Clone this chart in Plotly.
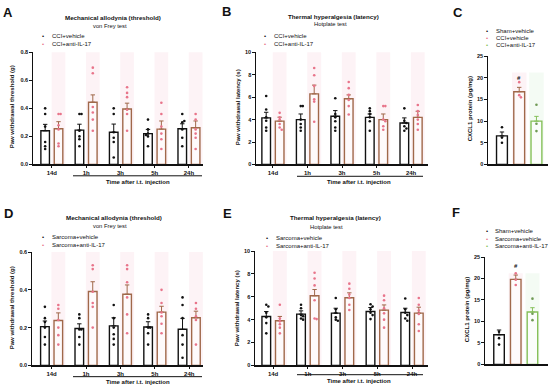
import plotly.graph_objects as go

W, H = 550, 390
FONT = "Liberation Sans, Arial, sans-serif"

times = ["14d", "1h", "3h", "5h", "24h"]

# ---------------- Panel A (CCI, von Frey) ----------------
A_veh_mean = [0.240, 0.245, 0.230, 0.220, 0.255]
A_veh_sem = [0.046, 0.042, 0.058, 0.030, 0.035]
A_anti_mean = [0.255, 0.444, 0.395, 0.252, 0.262]
A_anti_sem = [0.050, 0.052, 0.042, 0.058, 0.048]
A_veh_pts = [[0.40, 0.36, 0.27, 0.16, 0.13, 0.11],
             [0.36, 0.36, 0.24, 0.20, 0.18, 0.13],
             [0.40, 0.36, 0.23, 0.19, 0.16, 0.05],
             [0.32, 0.25, 0.22, 0.20, 0.13, 0.21],
             [0.36, 0.30, 0.31, 0.25, 0.19, 0.13]]
A_anti_pts = [[0.36, 0.36, 0.28, 0.25, 0.15, 0.13],
              [0.69, 0.65, 0.41, 0.37, 0.32, 0.24],
              [0.55, 0.51, 0.48, 0.39, 0.36, 0.24],
              [0.44, 0.36, 0.27, 0.22, 0.18, 0.11],
              [0.36, 0.32, 0.25, 0.22, 0.19, 0.11]]

# ---------------- Panel B (CCI, hotplate) ----------------
B_veh_mean = [4.15, 4.00, 4.30, 4.20, 3.70]
B_veh_sem = [0.50, 0.50, 0.50, 0.30, 0.45]
B_anti_mean = [3.86, 6.29, 5.85, 4.00, 4.20]
B_anti_sem = [0.35, 0.78, 0.35, 0.50, 0.54]
B_veh_pts = [[6.1, 4.9, 4.2, 3.9, 3.3, 3.0],
             [5.2, 5.2, 4.0, 3.6, 3.3, 3.0],
             [5.9, 4.5, 4.2, 3.85, 3.3, 3.0],
             [5.0, 4.75, 4.5, 4.2, 3.85, 3.0],
             [5.0, 3.9, 3.7, 3.4, 3.2, 3.0]]
B_anti_pts = [[4.6, 4.2, 4.0, 3.6, 3.3, 3.1],
              [8.6, 7.95, 7.0, 5.8, 5.6, 3.8],
              [7.35, 6.8, 6.2, 5.75, 5.2, 4.45],
              [5.2, 5.2, 4.0, 3.85, 3.4, 3.1],
              [5.3, 4.75, 4.4, 4.0, 3.6, 3.1]]

# ---------------- Panel C (CXCL1, CCI) ----------------
C_groups = ["Sham+vehicle", "CCI+vehicle", "CCI+anti-IL-17"]
C_mean = [6.6, 16.8, 10.0]
C_sem = [0.9, 1.0, 1.1]
C_pts = [[8.6, 6.2, 5.0], [19.0, 16.0, 15.5], [13.8, 9.4, 7.7]]
C_sig = ["", "#", ""]

# ---------------- Panel D (Sarcoma, von Frey) ----------------
D_veh_mean = [0.205, 0.195, 0.209, 0.203, 0.191]
D_veh_sem = [0.030, 0.025, 0.043, 0.028, 0.058]
D_anti_mean = [0.238, 0.391, 0.377, 0.282, 0.252]
D_anti_sem = [0.040, 0.052, 0.049, 0.031, 0.035]
D_veh_pts = [[0.31, 0.25, 0.23, 0.20, 0.15, 0.11],
             [0.27, 0.25, 0.19, 0.19, 0.15, 0.11],
             [0.32, 0.25, 0.20, 0.165, 0.14, 0.11],
             [0.27, 0.25, 0.20, 0.20, 0.17, 0.11],
             [0.36, 0.32, 0.25, 0.16, 0.11, 0.04]]
D_anti_pts = [[0.32, 0.30, 0.24, 0.20, 0.16, 0.11],
              [0.53, 0.51, 0.39, 0.33, 0.31, 0.20],
              [0.53, 0.51, 0.44, 0.36, 0.27, 0.17],
              [0.40, 0.33, 0.28, 0.26, 0.22, 0.17],
              [0.33, 0.30, 0.26, 0.24, 0.11]]

# ---------------- Panel E (Sarcoma, hotplate) ----------------
E_veh_mean = [4.28, 4.48, 4.57, 4.71, 4.63]
E_veh_sem = [0.43, 0.29, 0.43, 0.35, 0.37]
E_anti_mean = [3.90, 6.09, 5.92, 4.83, 4.57]
E_anti_sem = [0.38, 0.55, 0.43, 0.46, 0.52]
E_veh_pts = [[5.3, 5.15, 4.6, 4.2, 3.7, 2.8],
             [5.3, 5.0, 4.4, 4.3, 4.1, 4.0],
             [5.9, 4.9, 4.6, 4.2, 4.0, 3.9],
             [5.35, 5.15, 4.9, 4.6, 4.4, 4.05],
             [5.85, 4.9, 4.6, 4.4, 4.1, 3.9]]
E_anti_pts = [[5.3, 4.1, 3.85, 3.6, 3.3, 2.8],
              [8.1, 7.6, 7.0, 5.7, 4.1, 4.05],
              [7.15, 6.7, 6.2, 5.9, 5.3, 4.85],
              [6.1, 5.7, 5.0, 4.55, 4.0, 3.3],
              [5.9, 5.3, 4.8, 4.5, 3.6, 3.0]]

# ---------------- Panel F (CXCL1, Sarcoma) ----------------
F_groups = ["Sham+vehicle", "Sarcoma+vehicle", "Sarcoma+anti-IL-17"]
F_mean = [6.9, 19.8, 12.2]
F_sem = [1.1, 1.0, 1.0]
F_pts = [[7.6, 6.1, 4.6], [21.2, 19.7, 18.5], [15.3, 11.8, 10.3]]
F_sig = ["", "#", ""]

# ---------------- styling ----------------
BLACK = "#111111"
BROWN = "#a0684a"
PINK = "#e8748a"
GREEN = "#86c05a"
GREENPT = "#6f9a55"
BAND_PINK = "rgba(246,196,212,0.2)"
BAND_GREEN = "rgba(200,235,200,0.2)"


def px(x):
    return x / W


def py(y):
    return 1 - y / H


def swarm(center, vals, step, thr):
    xs, placed = [], []
    for v in vals:
        k = sum(1 for p in placed if abs(p - v) < thr)
        off = 0 if k == 0 else ((k + 1) // 2) * step * (1 if k % 2 else -1)
        xs.append(center + off)
        placed.append(v)
    return xs


fig = go.Figure()
layout = dict(width=W, height=H, margin=dict(l=0, r=0, t=0, b=0),
              paper_bgcolor="white", plot_bgcolor="rgba(0,0,0,0)",
              showlegend=False, hovermode=False,
              font=dict(family=FONT, size=6, color=BLACK),
              annotations=[], shapes=[])
ann = layout["annotations"]
shp = layout["shapes"]


def axis_pair(n, xdom, ydom, xrange, yrange, ytickvals, yfmt, xticks=True):
    xs = "xaxis" if n == 1 else f"xaxis{n}"
    ys = "yaxis" if n == 1 else f"yaxis{n}"
    xa = dict(domain=xdom, range=xrange, anchor=f"y{'' if n == 1 else n}",
              showgrid=False, zeroline=False, showline=True, linecolor=BLACK,
              linewidth=1.2, fixedrange=True)
    if xticks:
        xa.update(tickmode="array", tickvals=list(range(5)),
                  ticktext=[f"<b>{t}</b>" for t in times], ticks="outside",
                  ticklen=2.5, tickwidth=1, tickcolor=BLACK,
                  tickfont=dict(size=6, family=FONT, color=BLACK))
    else:
        xa.update(showticklabels=False, ticks="")
    ya = dict(domain=ydom, range=yrange, anchor=f"x{'' if n == 1 else n}",
              showgrid=False, zeroline=False, showline=True, linecolor=BLACK,
              linewidth=1.2, tickmode="array", tickvals=ytickvals,
              ticktext=[f"<b>{yfmt.format(v)}</b>" for v in ytickvals],
              ticks="outside", ticklen=2.5, tickwidth=1, tickcolor=BLACK,
              tickfont=dict(size=5.5, family=FONT, color=BLACK), fixedrange=True)
    layout[xs] = xa
    layout[ys] = ya
    return ("x" if n == 1 else f"x{n}"), ("y" if n == 1 else f"y{n}")


def time_panel(n, xdom, ydom, xrange, ymax, ytv, yfmt, vm, vs, am, asem, vp, ap, thr):
    xr, yr = axis_pair(n, xdom, ydom, xrange, [0, ymax], ytv, yfmt)
    off, bw = 0.195, 0.25
    xv = [i - off for i in range(5)]
    xa = [i + off for i in range(5)]
    for c in xa:
        shp.append(dict(type="rect", xref=xr, yref=f"{yr} domain", x0=c - 0.2, x1=c + 0.2,
                        y0=0, y1=1, fillcolor=BAND_PINK, line=dict(width=0), layer="below"))
    fig.add_trace(go.Bar(x=xv, y=vm, width=bw, xaxis=xr, yaxis=yr,
                         marker=dict(color="white", line=dict(color=BLACK, width=1.4)),
                         error_y=dict(type="data", array=vs, arrayminus=[0] * 5, symmetric=False,
                                      color=BLACK, thickness=1, width=2.2)))
    fig.add_trace(go.Bar(x=xa, y=am, width=bw, xaxis=xr, yaxis=yr,
                         marker=dict(color="rgba(255,255,255,0.6)", line=dict(color=BROWN, width=1.4)),
                         error_y=dict(type="data", array=asem, arrayminus=[0] * 5, symmetric=False,
                                      color=BROWN, thickness=1, width=2.2)))
    for i in range(5):
        fig.add_trace(go.Scatter(x=swarm(xv[i], vp[i], 0.06, thr), y=vp[i], mode="markers",
                                 xaxis=xr, yaxis=yr, cliponaxis=False,
                                 marker=dict(size=2.6, color=BLACK)))
        fig.add_trace(go.Scatter(x=swarm(xa[i], ap[i], 0.06, thr), y=ap[i], mode="markers",
                                 xaxis=xr, yaxis=yr, cliponaxis=False,
                                 marker=dict(size=2.6, color=PINK)))


def cxcl_panel(n, xdom, ydom, xrange, means, sems, pts, sig):
    xr, yr = axis_pair(n, xdom, ydom, xrange, [0, 25], [0, 5, 10, 15, 20, 25], "{:g}", xticks=False)
    cols = [BLACK, BROWN, GREEN]
    ptc = [BLACK, PINK, GREENPT]
    bands = [None, BAND_PINK, BAND_GREEN]
    for i in range(3):
        if bands[i]:
            shp.append(dict(type="rect", xref=xr, yref=f"{yr} domain", x0=i - 0.42, x1=i + 0.42,
                            y0=0, y1=0.85, fillcolor=bands[i], line=dict(width=0), layer="below"))
        fig.add_trace(go.Bar(x=[i], y=[means[i]], width=0.63, xaxis=xr, yaxis=yr,
                             marker=dict(color="rgba(255,255,255,0.6)", line=dict(color=cols[i], width=1.4)),
                             error_y=dict(type="data", array=[sems[i]], arrayminus=[0], symmetric=False,
                                          color=cols[i], thickness=1, width=2.2)))
        fig.add_trace(go.Scatter(x=swarm(i, pts[i], 0.1, 0.8), y=pts[i], mode="markers",
                                 xaxis=xr, yaxis=yr, marker=dict(size=2.6, color=ptc[i])))
        if sig[i]:
            ann.append(dict(xref=xr, yref=yr, x=i, y=means[i] + sems[i], yshift=9,
                            text=f"<b>{sig[i]}</b>", showarrow=False,
                            font=dict(size=6, color=BLACK)))


time_panel(1, [px(33), px(203)], [py(164), py(50)], [-0.55, 4.41], 0.8,
           [0, 0.2, 0.4, 0.6, 0.8], "{:.1f}", A_veh_mean, A_veh_sem, A_anti_mean, A_anti_sem,
           A_veh_pts, A_anti_pts, 0.015)
time_panel(2, [px(256), px(428)], [py(164), py(50)], [-0.49, 4.49], 10,
           [0, 2, 4, 6, 8, 10], "{:g}", B_veh_mean, B_veh_sem, B_anti_mean, B_anti_sem,
           B_veh_pts, B_anti_pts, 0.2)
cxcl_panel(3, [px(488), px(548)], [py(164), py(54)], [-0.81, 2.67], C_mean, C_sem, C_pts, C_sig)
time_panel(4, [px(32), px(203)], [py(368), py(253)], [-0.57, 4.40], 0.6,
           [0, 0.2, 0.4, 0.6], "{:.1f}", D_veh_mean, D_veh_sem, D_anti_mean, D_anti_sem,
           D_veh_pts, D_anti_pts, 0.012)
time_panel(5, [px(255), px(428)], [py(368), py(252)], [-0.52, 4.46], 10,
           [0, 2, 4, 6, 8, 10], "{:g}", E_veh_mean, E_veh_sem, E_anti_mean, E_anti_sem,
           E_veh_pts, E_anti_pts, 0.2)
cxcl_panel(6, [px(485), px(548)], [py(367), py(258)], [-0.84, 2.93], F_mean, F_sem, F_pts, F_sig)


def text(x, y, t, size=6, bold=False, color=BLACK, xanchor="center", angle=0):
    ann.append(dict(xref="paper", yref="paper", x=px(x), y=py(y), text=f"<b>{t}</b>" if bold else t,
                    showarrow=False, xanchor=xanchor, yanchor="middle", textangle=angle,
                    font=dict(size=size, color=color, family=FONT)))


def line(x0, x1, y):
    shp.append(dict(type="line", xref="paper", yref="paper", x0=px(x0), x1=px(x1),
                    y0=py(y), y1=py(y), line=dict(color=BLACK, width=1)))


# panel letters
for lx, ly, L in [(8, 10, "A"), (226, 9, "B"), (458, 10, "C"),
                  (8, 214, "D"), (227, 214, "E"), (456, 213, "F")]:
    text(lx, ly, L, size=13, bold=True)

# titles
text(113, 15, "Mechanical allodynia (threshold)", 6.2, True)
text(110, 23, "von Frey test", 5.8)
text(333, 14, "Thermal hyperalgesia (latency)", 6.2, True)
text(330, 21, "Hotplate test", 5.8)
text(114, 218, "Mechanical allodynia (threshold)", 6.2, True)
text(110, 226, "von Frey test", 5.8)
text(335, 218, "Thermal hyperalgesia (latency)", 6.2, True)
text(326, 227, "Hotplate test", 5.8)

# y axis titles
text(12, 106, "Paw withdrawal threshold (g)", 6, True, angle=-90)
text(238, 106, "Paw withdrawal latency (s)", 6, True, angle=-90)
text(470, 108, "CXCL1 protein (pg/mg)", 6, True, angle=-90)
text(12, 310, "Paw withdrawal threshold (g)", 6, True, angle=-90)
text(237, 310, "Paw withdrawal latency (s)", 6, True, angle=-90)
text(467, 312, "CXCL1 protein (pg/mg)", 6, True, angle=-90)

# time-after annotations
line(73, 202, 175.5)
text(138, 181.5, "Time after i.t. injection", 6, True)
line(297, 423, 176)
text(359, 181.5, "Time after i.t. injection", 6, True)
line(73, 202, 379.5)
text(138, 385, "Time after i.t. injection", 6, True)
line(297, 423, 377.5)
text(359, 384, "Time after i.t. injection", 6, True)


# legends
def legend(xd, xt, rows):
    for y, lab, col in rows:
        text(xd, y, "•", 6, False, col)
        text(xt, y, lab, 6, False, BLACK, xanchor="left")


legend(43, 50, [(34, "CCI+vehicle", BLACK), (41.5, "CCI+anti-IL-17", PINK)])
legend(265, 272, [(34, "CCI+vehicle", BLACK), (41.5, "CCI+anti-IL-17", PINK)])
legend(487, 494, [(28, C_groups[0], BLACK), (35.5, C_groups[1], PINK), (43, C_groups[2], GREEN)])
legend(43, 50, [(238, "Sarcoma+vehicle", BLACK), (246, "Sarcoma+anti-IL-17", PINK)])
legend(267, 274, [(239, "Sarcoma+vehicle", BLACK), (247, "Sarcoma+anti-IL-17", PINK)])
legend(487, 493, [(232, F_groups[0], BLACK), (239.5, F_groups[1], PINK), (247, F_groups[2], GREEN)])

fig.update_layout(**layout)
fig.write_html("out.html",
               config={"displayModeBar": False, "staticPlot": True},
               post_script="document.body.style.margin='0';document.body.style.padding='0';"
                           "document.body.style.overflow='hidden';")
